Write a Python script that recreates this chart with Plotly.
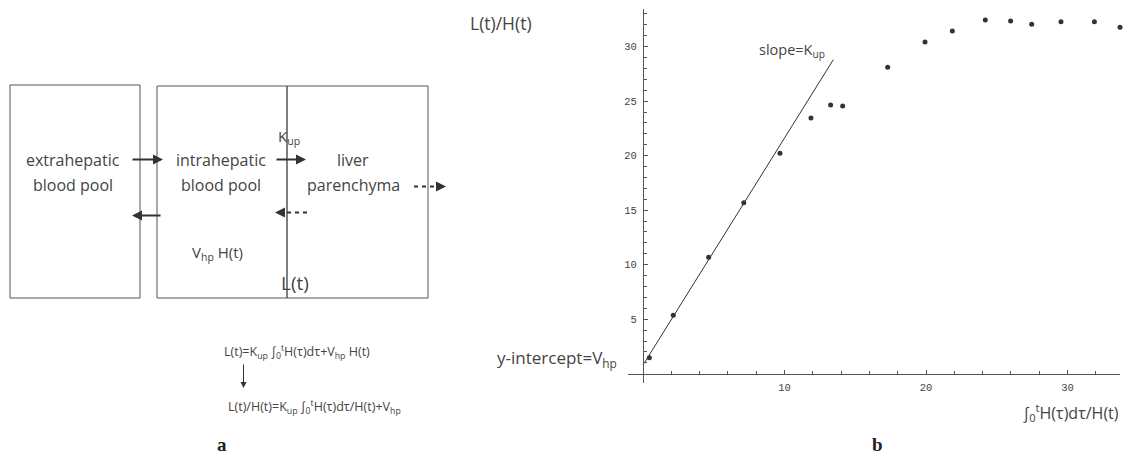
import plotly.graph_objects as go

# ---- data ----
x_vals = [0.45, 2.14, 4.64, 7.12, 9.68, 11.87, 13.26, 14.11, 17.29, 19.93,
          21.86, 24.19, 25.98, 27.47, 29.54, 31.90, 33.71]
y_vals = [1.47, 5.36, 10.68, 15.69, 20.22, 23.46, 24.65, 24.56, 28.11, 30.43,
          31.44, 32.45, 32.36, 32.05, 32.29, 32.29, 31.78]
fit_x = [0.0, 13.45]
fit_y = [0.8, 28.8]
x_ticks = [10, 20, 30]
y_ticks = [5, 10, 15, 20, 25, 30]

W, H = 1124, 456
SANS = "Open Sans"
TXT = "#444444"
DARK = "#333333"


def px(x):
    return x / W


def py(y):
    return 1 - y / H


fig = go.Figure()
fig.add_trace(go.Scatter(x=fit_x, y=fit_y, mode="lines",
                         line=dict(color=DARK, width=1), showlegend=False,
                         cliponaxis=False))
fig.add_trace(go.Scatter(x=x_vals, y=y_vals, mode="markers",
                         marker=dict(color=DARK, size=5), showlegend=False,
                         cliponaxis=False))

shapes = []
annotations = []


def box(x0, y0, x1, y1):
    shapes.append(dict(type="rect", xref="paper", yref="paper",
                       x0=px(x0), x1=px(x1), y0=py(y1), y1=py(y0),
                       line=dict(color="#555555", width=1)))


def line(x0, y0, x1, y1, width=2, dash="solid", color=DARK):
    shapes.append(dict(type="line", xref="paper", yref="paper",
                       x0=px(x0), x1=px(x1), y0=py(y0), y1=py(y1),
                       line=dict(color=color, width=width, dash=dash)))


def text(x, y, s, size=16, family=SANS, color=TXT, xanchor="center"):
    annotations.append(dict(x=px(x), y=py(y), xref="paper", yref="paper",
                            text=s, showarrow=False, xanchor=xanchor,
                            yanchor="middle",
                            font=dict(family=family, size=size, color=color)))


def arrow(xh, yh, xt, yt, width=2, size=1.0, head=2):
    annotations.append(dict(x=px(xh), y=py(yh), xref="paper", yref="paper",
                            ax=xt - xh, ay=yt - yh, axref="pixel", ayref="pixel",
                            text="", showarrow=True, arrowhead=head,
                            arrowsize=size, arrowwidth=width, arrowcolor=DARK))


# ---- panel a: compartment diagram ----
box(10, 85, 140, 298)
box(157, 86, 287, 298)
box(287, 86, 428, 298)

text(73, 160, "extrahepatic")
text(73, 185, "blood pool")
text(221, 160, "intrahepatic")
text(221, 185, "blood pool")
text(353, 160, "liver")
text(353, 185, "parenchyma")
text(289, 137, "K<sub>up</sub>", size=15)
text(217, 253, "V<sub>hp</sub> H(t)", size=15)
text(295, 283, "L(t)", size=19)

arrow(163, 159.5, 131, 159.5)
arrow(306, 159.5, 275, 159.5)
arrow(132, 215.5, 162, 215.5)
# dashed arrows
line(414, 186.5, 434, 186.5, dash="4px,4px")
arrow(446, 186.5, 436, 186.5)
line(307, 212.5, 287, 212.5, dash="4px,4px")
arrow(275, 212.5, 285, 212.5)

text(297, 352, "L(t)=K<sub>up</sub> \u222b<sub>0</sub><sup>t</sup>H(\u03c4)d\u03c4+V<sub>hp</sub> H(t)", size=12.5)
arrow(243.5, 388, 243.5, 363, width=1, size=1.2)
text(314, 407, "L(t)/H(t)=K<sub>up</sub> \u222b<sub>0</sub><sup>t</sup>H(\u03c4)d\u03c4/H(t)+V<sub>hp</sub>", size=12.5)
text(222, 444, "<b>a</b>", size=19, family="Liberation Serif", color="#222222")

# ---- panel b annotations ----
text(501, 23, "L(t)/H(t)", size=17.5)
text(557, 358, "y-intercept=V<sub>hp</sub>", size=17)
text(792, 51, "slope=K<sub>up</sub>", size=14.5)
text(1071, 412, "\u222b<sub>0</sub><sup>t</sup>H(\u03c4)d\u03c4/H(t)", size=16)
text(877, 444, "<b>b</b>", size=19, family="Liberation Serif", color="#222222")

tickfont = dict(family="Liberation Mono", size=10.5, color=TXT)

fig.update_layout(
    width=W, height=H,
    margin=dict(l=0, r=0, t=0, b=0),
    paper_bgcolor="white", plot_bgcolor="rgba(0,0,0,0)",
    showlegend=False,
    shapes=shapes,
    annotations=annotations,
    xaxis=dict(domain=[628 / W, 1120 / W], range=[-1.06, 33.71],
               anchor="free", position=(H - 373.7) / H,
               showline=True, linecolor="#555555", linewidth=1,
               showgrid=False, zeroline=False,
               tickmode="array", tickvals=x_ticks,
               ticks="inside", ticklen=4, tickcolor="#555555",
               tickfont=tickfont, ticklabelstandoff=4,
               minor=dict(tickmode="array",
                          tickvals=list(range(0, 34, 2)),
                          ticks="inside", ticklen=3, tickcolor="#555555")),
    yaxis=dict(domain=[(H - 383) / H, (H - 9) / H], range=[-0.85, 33.45],
               anchor="free", position=643 / W,
               showline=True, linecolor="#555555", linewidth=1,
               showgrid=False, zeroline=False,
               tickmode="array", tickvals=y_ticks,
               ticks="inside", ticklen=4, tickcolor="#555555",
               tickfont=tickfont, ticklabelstandoff=4,
               minor=dict(tickmode="array",
                          tickvals=list(range(1, 34)),
                          ticks="inside", ticklen=3, tickcolor="#555555")),
)

fig.write_html("out.html")
